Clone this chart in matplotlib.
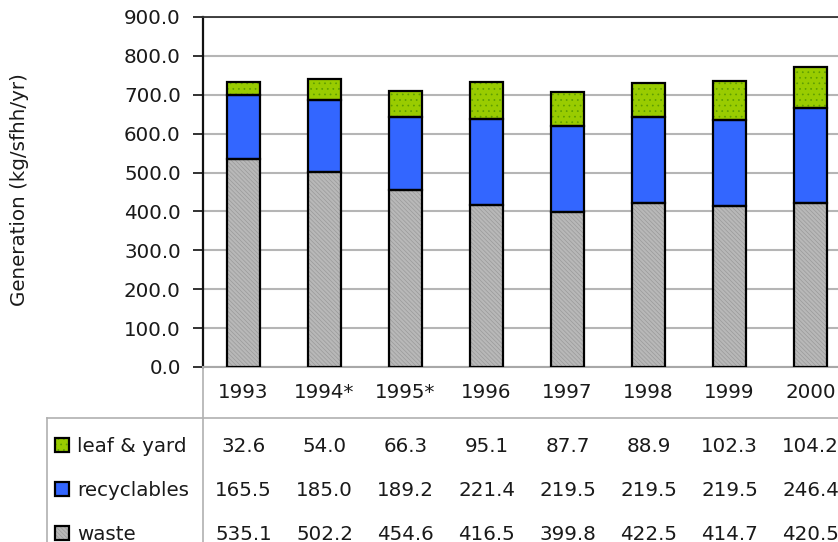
import matplotlib.pyplot as plt
import matplotlib.transforms as mtransforms
from matplotlib.patches import Rectangle
import numpy as np

# Household waste generation by year (kg per single-family household per year)
years = ["1993", "1994*", "1995*", "1996", "1997", "1998", "1999", "2000"]
waste = [535.1, 502.2, 454.6, 416.5, 399.8, 422.5, 414.7, 420.5]
recyclables = [165.5, 185.0, 189.2, 221.4, 219.5, 219.5, 219.5, 246.4]
leaf_yard = [32.6, 54.0, 66.3, 95.1, 87.7, 88.9, 102.3, 104.2]

# series styles: fill, hatch, hatch colour
styles = {
    "leaf & yard": ("#99CC00", "...", "#5E9E00"),
    "recyclables": ("#3366FF", None, None),
    "waste": ("#B8B8B8", "\\\\\\\\\\\\\\\\", "#9A9A9A"),
}

plt.rcParams["font.family"] = "DejaVu Sans"
plt.rcParams["hatch.linewidth"] = 0.5
FS = 14.3
W, H = 838, 542

fig = plt.figure(figsize=(W / 100, H / 100), dpi=100)
# plot area runs past the right edge of the canvas
ax = fig.add_axes([203 / W, (H - 367) / H, 648 / W, 350 / H])

x = np.arange(len(years))
bw = 0.41


def stacked(ax, xs, vals, bottom, name, lw=1.6):
    fc, hatch, hc = styles[name]
    ax.bar(xs, vals, bw, bottom=bottom, color=fc, linewidth=0, zorder=3)
    if hatch:
        ax.bar(xs, vals, bw, bottom=bottom, fill=False, hatch=hatch,
               edgecolor=hc, linewidth=0, zorder=3.5)
    ax.bar(xs, vals, bw, bottom=bottom, fill=False, edgecolor="black",
           linewidth=lw, zorder=4)


b1 = np.array(waste)
b2 = b1 + np.array(recyclables)
stacked(ax, x, waste, 0, "waste")
stacked(ax, x, recyclables, b1, "recyclables")
stacked(ax, x, leaf_yard, b2, "leaf & yard")

ax.set_xlim(-0.5, 7.5)
ax.set_ylim(0, 900)
ax.set_yticks(np.arange(0, 901, 100))
ax.set_yticklabels([f"{v:.1f}" for v in np.arange(0, 901, 100)], fontsize=FS, color="#1A1A1A")
ax.tick_params(axis="y", length=7, width=1.3, color="#222222", pad=9)
ax.set_xticks([])
ax.grid(axis="y", color="#B5B5B5", linewidth=1.5, zorder=0)
ax.set_axisbelow(True)
ax.spines["left"].set_color("#111111")
ax.spines["left"].set_linewidth(1.6)
ax.spines["top"].set_color("#333333")
ax.spines["top"].set_linewidth(1.3)
ax.spines["bottom"].set_color("#A8A8A8")
ax.spines["bottom"].set_linewidth(1.5)
ax.spines["right"].set_visible(False)

fig.text(20 / W, 1 - 190 / H, "Generation (kg/sfhh/yr)", rotation=90,
         ha="center", va="center", fontsize=FS, color="#1A1A1A")

# data table drawn under the plot, in pixel coordinates
tab = fig.add_axes([0, 0, 1, 1], zorder=-1)
tab.set_xlim(0, W)
tab.set_ylim(H, 0)
tab.axis("off")
tab.patch.set_alpha(0)

grey = "#B0B0B0"
tab.plot([47, W], [418, 418], color=grey, lw=1.2)
tab.plot([47, 47], [418, H], color=grey, lw=1.2)
tab.plot([203, 203], [367, H], color=grey, lw=1.2)

col = mtransforms.blended_transform_factory(ax.transData, tab.transData)
for i, yr in enumerate(years):
    tab.text(x[i], 393, yr, transform=col, ha="center", va="center",
             fontsize=FS, color="#1A1A1A")

rows = [("leaf & yard", leaf_yard, 446), ("recyclables", recyclables, 490),
        ("waste", waste, 534)]
ks = 14
for name, vals, yy in rows:
    fc, hatch, hc = styles[name]
    kx, ky = 55, yy - 8
    tab.add_patch(Rectangle((kx, ky), ks, ks, facecolor=fc, linewidth=0))
    if hatch:
        tab.add_patch(Rectangle((kx, ky), ks, ks, fill=False, hatch=hatch,
                                edgecolor=hc, linewidth=0))
    tab.add_patch(Rectangle((kx, ky), ks, ks, fill=False,
                            edgecolor="black", linewidth=1.6))
    tab.text(77, yy, name, ha="left", va="center", fontsize=FS, color="#1A1A1A")
    for i, v in enumerate(vals):
        tab.text(x[i], yy, f"{v:.1f}", transform=col, ha="center", va="center",
                 fontsize=FS, color="#1A1A1A")

fig.savefig("out.png", dpi=100)
